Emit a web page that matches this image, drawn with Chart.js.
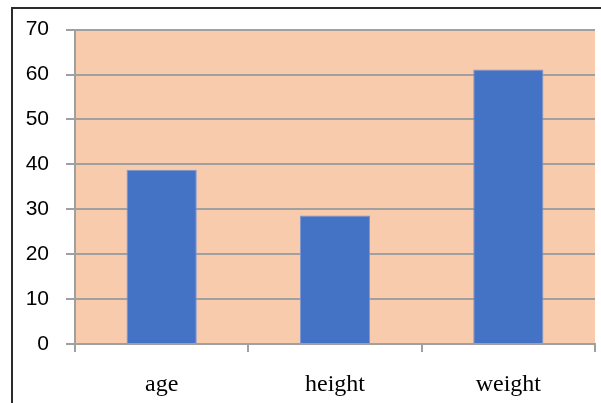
<!DOCTYPE html>
<html>
<head>
<meta charset="utf-8">
<script src="https://cdn.jsdelivr.net/npm/chart.js@4/dist/chart.umd.min.js"></script>
<style>
  html, body { margin: 0; padding: 0; background: #ffffff; }
  #wrap { width: 601px; height: 403px; position: relative; }
</style>
</head>
<body>
<div id="wrap"><canvas id="c" width="601" height="403"></canvas></div>
<script>
// Chart data
const categories = ['age', 'height', 'weight'];
const values = [38.8, 28.6, 61.1];
const yTicks = [0, 10, 20, 30, 40, 50, 60, 70];

const GRID = '#a0a0a0';

// Paints the white page, the peach plot background and the outer frame
const framePlugin = {
  id: 'frame',
  beforeDraw(chart) {
    const { ctx, chartArea: a } = chart;
    ctx.save();
    ctx.fillStyle = '#ffffff';
    ctx.fillRect(0, 0, chart.width, chart.height);
    ctx.fillStyle = '#F8CBAD';
    ctx.fillRect(a.left, a.top, a.right - a.left, a.bottom - a.top);
    ctx.restore();
  },
  afterDraw(chart) {
    const { ctx } = chart;
    ctx.save();
    ctx.strokeStyle = '#2b2b2b';
    ctx.lineWidth = 2;
    ctx.beginPath();
    ctx.moveTo(12, chart.height + 2);
    ctx.lineTo(12, 8);
    ctx.lineTo(chart.width + 2, 8);
    ctx.stroke();
    ctx.restore();
  }
};

new Chart(document.getElementById('c'), {
  type: 'bar',
  data: {
    labels: categories,
    datasets: [{
      data: values,
      backgroundColor: '#4472C4',
      borderColor: '#7b97d2',
      borderWidth: 1,
      barPercentage: 0.81,
      categoryPercentage: 0.5
    }]
  },
  plugins: [framePlugin],
  options: {
    responsive: false,
    animation: false,
    layout: { padding: { left: 0, top: 26, right: 6, bottom: 0 } },
    plugins: {
      legend: { display: false },
      tooltip: { enabled: false }
    },
    scales: {
      x: {
        offset: true,
        grid: {
          offset: true,
          drawOnChartArea: false,
          drawTicks: true,
          tickLength: 8,
          color: GRID,
          lineWidth: 2
        },
        border: { display: true, color: GRID, width: 2 },
        ticks: {
          padding: 18,
          color: '#000000',
          font: { family: '"Liberation Serif", "Times New Roman", serif', size: 24 }
        },
        afterFit(scale) { scale.height = 59; }
      },
      y: {
        min: 0,
        max: 70,
        afterBuildTicks(scale) { scale.ticks = yTicks.map(v => ({ value: v })); },
        grid: {
          color: GRID,
          lineWidth: 2,
          drawTicks: true,
          tickLength: 9
        },
        border: { display: true, color: GRID, width: 2 },
        ticks: {
          padding: 17,
          color: '#000000',
          font: { family: '"Liberation Sans", Arial, sans-serif', size: 21 }
        },
        afterFit(scale) { scale.width = 75; }
      }
    }
  }
});
</script>
</body>
</html>
